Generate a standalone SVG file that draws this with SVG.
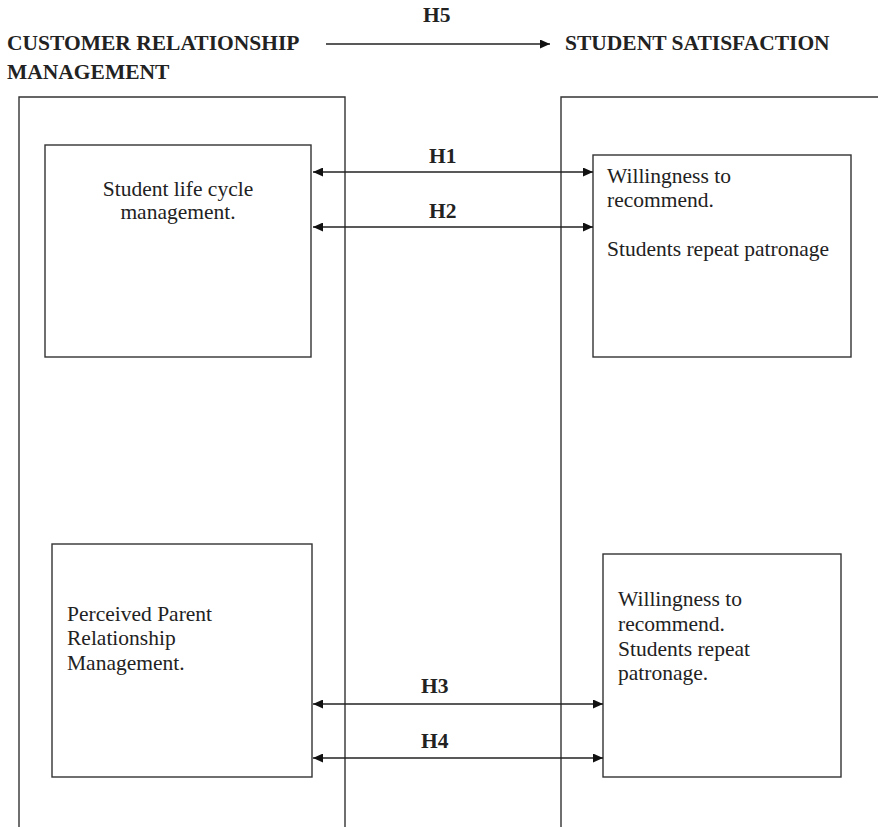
<svg xmlns="http://www.w3.org/2000/svg" width="878" height="827" viewBox="0 0 878 827">
<defs>
<marker id="ah" viewBox="0 0 10 9" refX="10" refY="4.5" markerWidth="10" markerHeight="9" markerUnits="userSpaceOnUse" orient="auto-start-reverse">
<path d="M0,0 L10,4.5 L0,9 z" fill="#111"/>
</marker>
<style>
.frame{fill:none;stroke:#333;stroke-width:1.4}
.box{fill:#fff;stroke:#333;stroke-width:1.4}
.t{font-family:"Liberation Serif","Times New Roman",serif;font-size:21.5px;fill:#222}
.h{font-family:"Liberation Serif","Times New Roman",serif;font-size:21.5px;font-weight:bold;fill:#222}
.c{stroke:#222;stroke-width:1.4;fill:none}
</style>
</defs>
<rect width="878" height="827" fill="#fff"/>
<g id="header">
<text class="h" x="7" y="50">CUSTOMER RELATIONSHIP</text>
<text class="h" x="7" y="79">MANAGEMENT</text>
<text class="h" x="565" y="50">STUDENT SATISFACTION</text>
</g>
<g id="crm-frame"><path class="frame" d="M19,827 V97 H345 V827"/></g>
<g id="ss-frame"><path class="frame" d="M561,827 V97 H880"/></g>
<g id="node-slcm">
<rect class="box" x="45" y="145" width="266" height="212"/>
<text class="t" x="178" y="196" text-anchor="middle">Student life cycle</text>
<text class="t" x="178" y="219" text-anchor="middle">management.</text>
</g>
<g id="node-ss1">
<rect class="box" x="593" y="155" width="258" height="202"/>
<text class="t" x="607" y="183">Willingness to</text>
<text class="t" x="607" y="207">recommend.</text>
<text class="t" x="607" y="256">Students repeat patronage</text>
</g>
<g id="node-pprm">
<rect class="box" x="52" y="544" width="260" height="233"/>
<text class="t" x="67" y="621">Perceived Parent</text>
<text class="t" x="67" y="645">Relationship</text>
<text class="t" x="67" y="670">Management.</text>
</g>
<g id="node-ss2">
<rect class="box" x="603" y="554" width="238" height="223"/>
<text class="t" x="618" y="606">Willingness to</text>
<text class="t" x="618" y="631">recommend.</text>
<text class="t" x="618" y="656">Students repeat</text>
<text class="t" x="618" y="680">patronage.</text>
</g>
<g id="connectors">
<line class="c" x1="326" y1="44" x2="550" y2="44" marker-end="url(#ah)"/>
<line class="c" x1="313" y1="172" x2="593" y2="172" marker-start="url(#ah)" marker-end="url(#ah)"/>
<line class="c" x1="313" y1="227" x2="593" y2="227" marker-start="url(#ah)" marker-end="url(#ah)"/>
<line class="c" x1="313" y1="704" x2="603" y2="704" marker-start="url(#ah)" marker-end="url(#ah)"/>
<line class="c" x1="313" y1="758" x2="603" y2="758" marker-start="url(#ah)" marker-end="url(#ah)"/>
<text class="h" x="423" y="22">H5</text>
<text class="h" x="429" y="163">H1</text>
<text class="h" x="429" y="218">H2</text>
<text class="h" x="421" y="693">H3</text>
<text class="h" x="421" y="748">H4</text>
</g>
</svg>
